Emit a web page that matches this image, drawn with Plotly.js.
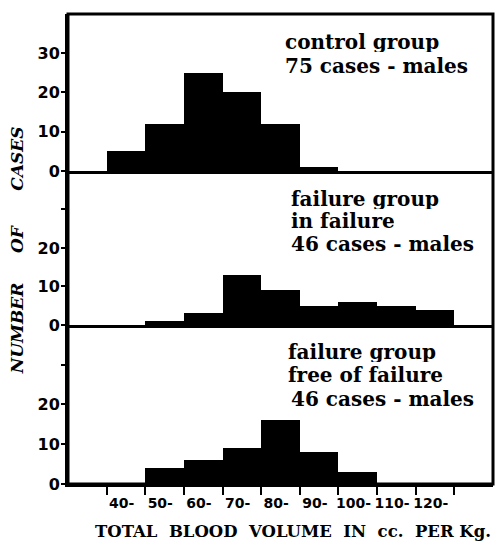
<!DOCTYPE html>
<html>
<head>
<meta charset="utf-8">
<script src="https://cdn.plot.ly/plotly-3.0.1.min.js"></script>
<style>html,body{margin:0;padding:0;background:#fff;}#chart{width:496px;height:543px;}</style>
</head>
<body>
<div id="chart"></div>
<script>
// Bin starts (cc per kg) and counts per group
const binStarts = [40, 50, 60, 70, 80, 90, 100, 110, 120];
const binLabels = ["40-", "50-", "60-", "70-", "80-", "90-", "100-", "110-", "120-"];
const controlGroup = [5, 12, 25, 20, 12, 1, 0, 0, 0];
const failureInFailure = [0, 1, 3, 13, 9, 5, 6, 5, 4];
const failureFreeOfFailure = [0, 4, 6, 9, 16, 8, 3, 0, 0];
const yTickVals = [0, 10, 20, 30];
const yTickTextTop = ["0", "10", "20", "30"];
const yTickTextLower = ["0", "10", "20", ""];
const panelTexts = [
  ["control group", "75 cases - males"],
  ["failure group", "in failure", "46 cases - males"],
  ["failure group", "free of failure", "46 cases - males"]
];

const binWidth = 10;
const centers = binStarts.map(b => b + binWidth / 2);
const serif = "DejaVu Serif, serif";
const sans = "DejaVu Sans, sans-serif";

function barTrace(vals, xa, ya) {
  return {
    type: "bar", x: centers, y: vals, width: binStarts.map(() => binWidth),
    xaxis: xa, yaxis: ya, marker: {color: "#000", line: {width: 0}},
    showlegend: false, hoverinfo: "skip"
  };
}

const data = [
  barTrace(failureFreeOfFailure, "x", "y"),
  barTrace(failureInFailure, "x2", "y2"),
  barTrace(controlGroup, "x3", "y3")
];

const xRange = [30, 140];
const yRange = [0, 40];
const yTickFont = {family: sans, size: 16, color: "#000", weight: "bold"};
const xTickFont = {family: sans, size: 14, color: "#000", weight: "bold"};

function yAxis(domain, texts, anchor) {
  return {
    domain: domain, range: yRange, anchor: anchor, tickvals: yTickVals, ticktext: texts,
    ticks: "outside", ticklen: 4, tickwidth: 2, tickcolor: "#000", ticklabelstandoff: -2,
    showline: true, linewidth: 3, linecolor: "#000", showgrid: false, zeroline: false,
    tickfont: yTickFont, fixedrange: true
  };
}
function xAxisPlain(anchor) {
  return {
    range: xRange, anchor: anchor, showline: true, linewidth: 3, linecolor: "#000",
    showgrid: false, zeroline: false, ticks: "", showticklabels: false, fixedrange: true
  };
}

const edgeTicks = binStarts.concat([130]);
const edgeText = binLabels.concat([""]);

const d1 = 0.3383, d2 = 0.666;

const annotations = [];
const lineSpecs = [
  {xs: [0.507, 0.507], ys: [0.9415, 0.8905]},
  {xs: [0.521, 0.521, 0.521], ys: [0.6085, 0.5596, 0.5108]},
  {xs: [0.514, 0.514, 0.521], ys: [0.2819, 0.233, 0.1809]}
];
panelTexts.forEach((lines, i) => {
  lines.forEach((t, j) => {
    annotations.push({
      xref: "paper", yref: "paper", x: lineSpecs[i].xs[j], y: lineSpecs[i].ys[j],
      xanchor: "left", yanchor: "middle", showarrow: false, text: t, height: 21,
      font: {family: serif, size: 20, color: "#000", weight: "bold"}
    });
  });
});
annotations.push({
  xref: "paper", yref: "paper", x: -0.118, y: 0.497, showarrow: false, textangle: -90,
  xanchor: "center", yanchor: "middle",
  text: "NUMBER\u00a0\u00a0\u00a0\u00a0\u00a0OF\u00a0\u00a0\u00a0\u00a0\u00a0\u00a0CASES",
  font: {family: serif, size: 17, color: "#000", weight: "bold", style: "italic"}
});
annotations.push({
  xref: "paper", yref: "paper", x: 0.529, y: -0.1, showarrow: false,
  xanchor: "center", yanchor: "middle",
  text: "TOTAL\u00a0\u00a0BLOOD\u00a0\u00a0VOLUME\u00a0\u00a0IN\u00a0\u00a0cc.\u00a0\u00a0PER\u00a0Kg.",
  font: {family: serif, size: 16.5, color: "#000", weight: "bold"}
});

const layout = {
  width: 496, height: 543,
  margin: {l: 68, r: 3, t: 14, b: 59},
  paper_bgcolor: "#fff", plot_bgcolor: "#fff",
  bargap: 0,
  xaxis: {
    range: xRange, anchor: "y", showline: true, linewidth: 3, linecolor: "#000",
    showgrid: false, zeroline: false, tickvals: edgeTicks, ticktext: edgeText,
    ticks: "outside", ticklen: 8, tickwidth: 2, tickcolor: "#000", tickangle: 0,
    ticklabelshift: 15, ticklabelstandoff: -4, tickfont: xTickFont, fixedrange: true
  },
  xaxis2: xAxisPlain("y2"),
  xaxis3: xAxisPlain("y3"),
  yaxis: yAxis([0, d1], yTickTextLower, "x"),
  yaxis2: yAxis([d1, d2], yTickTextLower, "x2"),
  yaxis3: yAxis([d2, 1], yTickTextTop, "x3"),
  shapes: [{
    type: "rect", xref: "paper", yref: "paper", x0: 0, x1: 1, y0: 0, y1: 1,
    line: {color: "#000", width: 3}
  }],
  annotations: annotations
};

Plotly.newPlot("chart", data, layout, {displayModeBar: false, staticPlot: true});
</script>
</body>
</html>
